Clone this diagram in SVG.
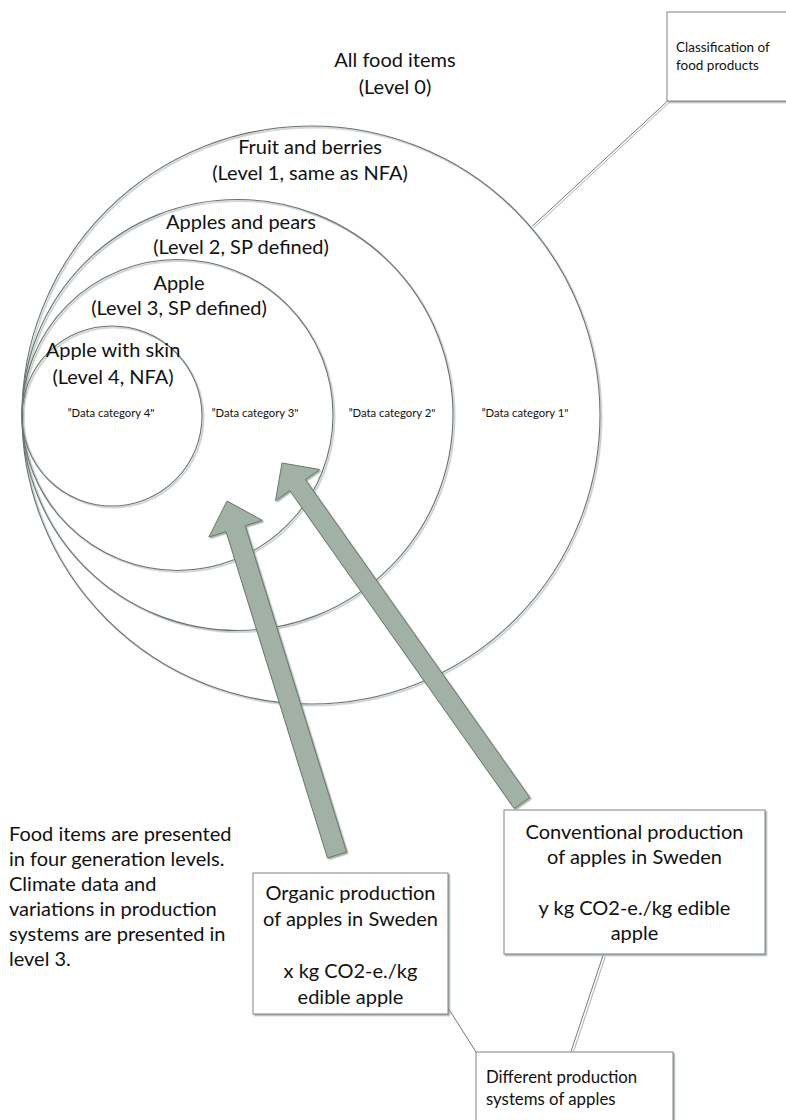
<svg xmlns="http://www.w3.org/2000/svg" width="786" height="1120" viewBox="0 0 786 1120">
<defs>
<filter id="sh" x="-10%" y="-10%" width="120%" height="120%">
<feDropShadow dx="1.5" dy="1.5" stdDeviation="0.7" flood-color="#8c9891" flood-opacity="0.75"/>
</filter>
<style>
.c{fill:none;stroke:#66756c;stroke-width:1.1}
.t{font-family:Lato,"Liberation Sans",sans-serif;fill:#111;text-anchor:middle}
.big{font-size:20px}
.sm{font-size:11.3px}
.box{fill:#fff;stroke:#7b8680;stroke-width:1}
.arr{fill:#a2b1a6;stroke:#67776d;stroke-width:1}
.dk{stroke:#6f7a74;stroke-width:1;fill:none}
.lt{stroke:#aab3ae;stroke-width:1;fill:none}
.l{font-size:20px;text-anchor:start}
</style>
</defs>
<g id="circles" filter="url(#sh)">
<circle id="c1" class="c" cx="311" cy="415" r="289"/>
<circle id="c2" class="c" cx="237.5" cy="415" r="215.5"/>
<circle id="c3" class="c" cx="177.5" cy="415" r="155.5"/>
<circle id="c4" class="c" cx="112" cy="416" r="90"/>
</g>
<g id="level0"><text class="t big" x="395" y="67">All food items</text><text class="t big" x="395" y="94">(Level 0)</text></g>
<g id="level1"><text class="t big" x="310" y="154">Fruit and berries</text><text class="t big" x="310" y="180">(Level 1, same as NFA)</text></g>
<g id="level2"><text class="t big" x="241" y="229">Apples and pears</text><text class="t big" x="241" y="254">(Level 2, SP defined)</text></g>
<g id="level3"><text class="t big" x="179" y="290">Apple</text><text class="t big" x="179" y="315">(Level 3, SP defined)</text></g>
<g id="level4"><text class="t big" x="113" y="357">Apple with skin</text><text class="t big" x="113" y="384">(Level 4, NFA)</text></g>
<g id="datacats">
<text class="t sm" x="111" y="417">”Data category 4"</text>
<text class="t sm" x="255" y="417">”Data category 3"</text>
<text class="t sm" x="392" y="417">”Data category 2"</text>
<text class="t sm" x="525" y="417">”Data category 1"</text>
</g>
<g id="connectors">
<line class="dk" x1="667.3" y1="101.3" x2="532.3" y2="226.3"/>
<line class="lt" x1="668.8" y1="102.9" x2="533.8" y2="227.9"/>
<line class="dk" x1="447.5" y1="1007" x2="476" y2="1052"/>
<line class="dk" x1="603" y1="955.5" x2="571" y2="1051.5"/>
<line class="lt" x1="605.4" y1="956.3" x2="573.4" y2="1052.3"/>
</g>
<g id="arrows" filter="url(#sh)">
<polygon id="arrow-organic" class="arr" points="346.6,852 245.2,525.7 262.3,520.4 227,501 208.9,537 226.1,531.7 327.5,858"/>
<polygon id="arrow-conventional" class="arr" points="529.8,797.5 305.4,479.6 319.7,469.5 282,463 275.5,500.7 289.8,490.6 514.2,808.5"/>
</g>
<g id="classification">
<rect class="box" x="667" y="12" width="130" height="89" filter="url(#sh)"/>
<text class="t" style="font-size:13.5px;text-anchor:start" x="676" y="52">Classification of</text>
<text class="t" style="font-size:13.5px;text-anchor:start" x="676" y="70">food products</text>
</g>
<g id="note">
<text class="t l" x="9" y="841">Food items are presented</text>
<text class="t l" x="9" y="866">in four generation levels.</text>
<text class="t l" x="9" y="891">Climate data and</text>
<text class="t l" x="9" y="916">variations in production</text>
<text class="t l" x="9" y="941">systems are presented in</text>
<text class="t l" x="9" y="966">level 3.</text>
</g>
<g id="organic">
<rect class="box" x="253" y="873" width="195" height="141" filter="url(#sh)"/>
<text class="t big" x="350.5" y="900">Organic production</text>
<text class="t big" x="350.5" y="926">of apples in Sweden</text>
<text class="t big" x="350.5" y="978">x kg CO2-e./kg</text>
<text class="t big" x="350.5" y="1004">edible apple</text>
</g>
<g id="conventional">
<rect class="box" x="504" y="810" width="261" height="144" filter="url(#sh)"/>
<text class="t big" x="634.5" y="839">Conventional production</text>
<text class="t big" x="634.5" y="864">of apples in Sweden</text>
<text class="t big" x="634.5" y="915">y kg CO2-e./kg edible</text>
<text class="t big" x="634.5" y="940">apple</text>
</g>
<g id="different">
<rect class="box" x="476" y="1052" width="197" height="80" filter="url(#sh)"/>
<text class="t" style="font-size:16.8px;text-anchor:start" x="486" y="1083">Different production</text>
<text class="t" style="font-size:16.8px;text-anchor:start" x="486" y="1105">systems of apples</text>
</g>
</svg>
